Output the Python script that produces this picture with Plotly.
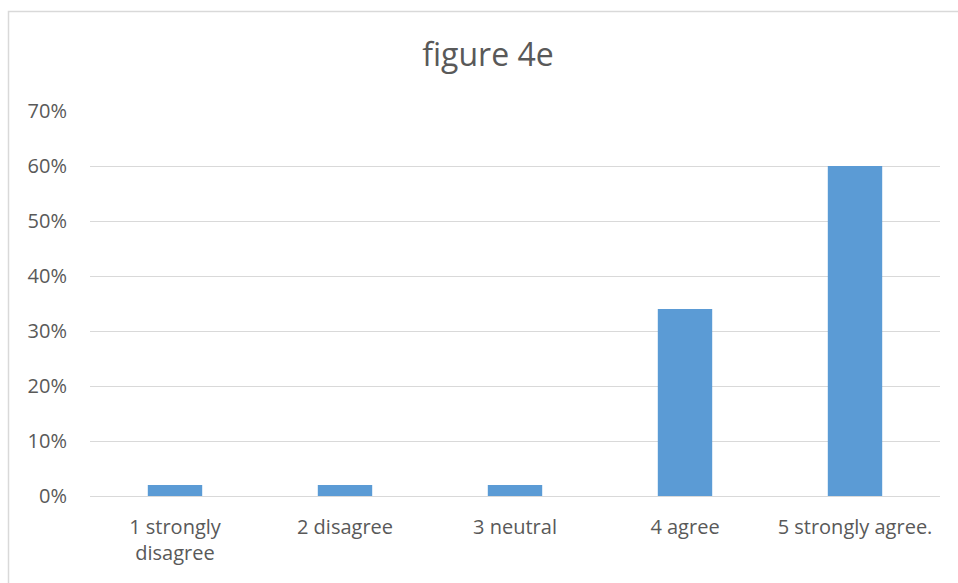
import plotly.graph_objects as go

# Survey responses for figure 4e
categories = ["1 strongly<br>disagree", "2 disagree", "3 neutral", "4 agree", "5 strongly agree."]
shares = [0.02, 0.02, 0.02, 0.34, 0.60]
y_ticks = [0, 0.1, 0.2, 0.3, 0.4, 0.5, 0.6, 0.7]
y_tick_labels = ["0%", "10%", "20%", "30%", "40%", "50%", "60%", "70%"]

W, H = 958, 583
L, R, T, B = 90, 940, 111, 496  # plot-area pixel bounds
pw, ph = R - L, B - T

def px_x(x):
    return (x - L) / pw

def px_y(y):
    return (B - y) / ph

text_color = "#595959"
grid_color = "#d9d9d9"
font_family = "Open Sans, sans-serif"

fig = go.Figure(
    go.Bar(
        x=categories,
        y=shares,
        marker=dict(color="#5b9bd5", line=dict(width=0)),
        hoverinfo="x+y",
    )
)

fig.update_layout(
    width=W,
    height=H,
    margin=dict(l=L, r=W - R, t=T, b=H - B),
    paper_bgcolor="white",
    plot_bgcolor="white",
    bargap=0.68,
    showlegend=False,
    font=dict(family=font_family, color=text_color, size=20),
    title=dict(
        text="figure 4e",
        x=488 / W,
        xref="container",
        xanchor="center",
        y=1 - 55 / H,
        yref="container",
        yanchor="middle",
        font=dict(family=font_family, size=32, color=text_color),
    ),
    xaxis=dict(
        showgrid=False,
        showline=True,
        linecolor=grid_color,
        linewidth=1,
        ticks="",
        tickfont=dict(size=20, color=text_color),
        ticklabelstandoff=13,
        fixedrange=True,
    ),
    yaxis=dict(
        range=[0, 0.7],
        tickvals=y_ticks,
        ticktext=y_tick_labels,
        showgrid=True,
        gridcolor=grid_color,
        gridwidth=1,
        zeroline=False,
        showline=False,
        ticks="",
        tickfont=dict(size=20, color=text_color),
        ticklabelstandoff=22,
        fixedrange=True,
    ),
    shapes=[
        dict(
            type="rect",
            xref="paper",
            yref="paper",
            x0=px_x(8.5),
            x1=px_x(975),
            y0=px_y(600),
            y1=px_y(11.5),
            line=dict(color="#d9d9d9", width=1.5),
            fillcolor="rgba(0,0,0,0)",
            layer="below",
        )
    ],
)

fig.write_html("out.html")
